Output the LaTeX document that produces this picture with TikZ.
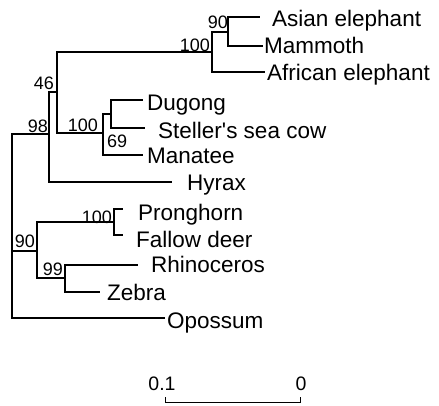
\documentclass[tikz,border=0pt]{standalone}
\usepackage{fontspec}
\setmainfont{Liberation Sans}
\newfontfamily\treefont{Liberation Sans}
\begin{document}
\begin{tikzpicture}[x=1pt,y=-1pt,
  branch/.style={line width=1.3pt},
  taxon/.style={anchor=base west, inner sep=0pt, font=\treefont\fontsize{22.5}{26}\selectfont},
  supp/.style={inner sep=0pt, anchor=base east, font=\treefont\fontsize{18}{21}\selectfont},
  scalelab/.style={inner sep=0pt, anchor=base, font=\treefont\fontsize{19.5}{23}\selectfont}]
\useasboundingbox (0,0) rectangle (439,405);
% internal nodes and branch ends
\coordinate (root) at (12,226);
\coordinate (n98) at (49,134);
\coordinate (n46) at (57,92);
\coordinate (e100) at (212,52);
\coordinate (e90) at (228,32);
\coordinate (asianE) at (260,17);
\coordinate (mammE) at (263,46);
\coordinate (afrE) at (265,72);
\coordinate (s100) at (103,133);
\coordinate (s69) at (111,114);
\coordinate (dugE) at (143,100);
\coordinate (stelE) at (145,128);
\coordinate (manE) at (143,155);
\coordinate (hyrE) at (172,182);
\coordinate (u90) at (37,251);
\coordinate (u100) at (114,222);
\coordinate (pronE) at (123,209);
\coordinate (fallE) at (123,235);
\coordinate (u99) at (65,278);
\coordinate (rhiE) at (138,265);
\coordinate (zebE) at (100,292);
\coordinate (opoE) at (165,318);
% branches
\draw[branch] (root) |- (n98);
\draw[branch] (root) |- (u90);
\draw[branch] (root) |- (opoE);
\draw[branch] (n98) |- (n46);
\draw[branch] (n98) |- (hyrE);
\draw[branch] (n46) |- (e100);
\draw[branch] (n46) |- (s100);
\draw[branch] (e100) |- (e90);
\draw[branch] (e100) |- (afrE);
\draw[branch] (e90) |- (asianE);
\draw[branch] (e90) |- (mammE);
\draw[branch] (s100) |- (s69);
\draw[branch] (s100) |- (manE);
\draw[branch] (s69) |- (dugE);
\draw[branch] (s69) |- (stelE);
\draw[branch] (u90) |- (u100);
\draw[branch] (u90) |- (u99);
\draw[branch] (u100) |- (pronE);
\draw[branch] (u100) |- (fallE);
\draw[branch] (u99) |- (rhiE);
\draw[branch] (u99) |- (zebE);
% taxa
\node[taxon] (asian) at (272,26) {Asian elephant};
\node[taxon] (mamm) at (264,53) {Mammoth};
\node[taxon] (afr) at (267,80) {African elephant};
\node[taxon] (dug) at (147,110) {Dugong};
\node[taxon] (stel) at (158,138) {Steller's sea cow};
\node[taxon] (man) at (147,163) {Manatee};
\node[taxon] (hyr) at (187,190) {Hyrax};
\node[taxon] (pron) at (138,220) {Pronghorn};
\node[taxon] (fall) at (136,247) {Fallow deer};
\node[taxon] (rhi) at (151,272) {Rhinoceros};
\node[taxon] (zeb) at (107,300) {Zebra};
\node[taxon] (opo) at (167,328) {Opossum};
% support values
\node[supp] (b90e) at (228,28) {90};
\node[supp] (b100e) at (210,51) {100};
\node[supp] (b46) at (54,89) {46};
\node[supp] (b98) at (48,132) {98};
\node[supp] (b100s) at (98,131) {100};
\node[supp, anchor=base west] (b69) at (107,147) {69};
\node[supp] (b100u) at (112,223) {100};
\node[supp] (b90u) at (35,247) {90};
\node[supp] (b99) at (63,275) {99};
% scale bar
\coordinate (sbL) at (165,402);
\coordinate (sbR) at (300,402);
\draw[line width=0.9pt] ([yshift=5pt]sbL) -- (sbL) -- (sbR) -- ([yshift=5pt]sbR);
\node[scalelab] (s01) at (162,390) {0.1};
\node[scalelab] (s0) at (301,390) {0};
\end{tikzpicture}
\end{document}
